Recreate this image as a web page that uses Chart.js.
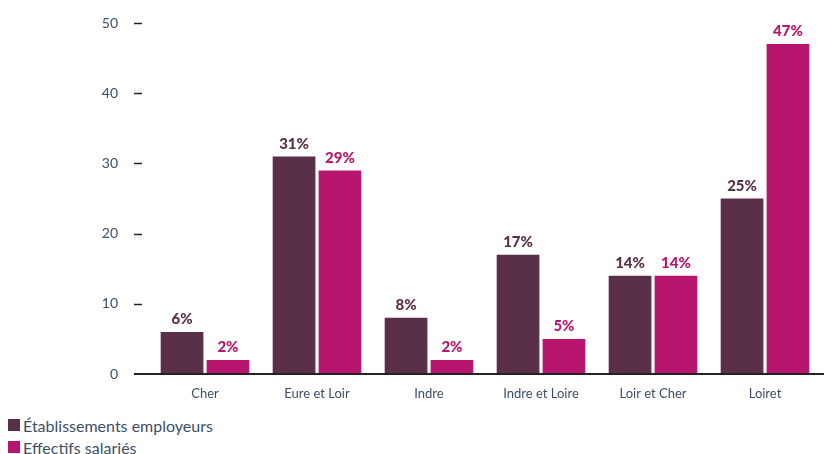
<!DOCTYPE html>
<html>
<head>
<meta charset="utf-8">
<script src="https://cdn.jsdelivr.net/npm/chart.js@4"></script>
<style>
  body { margin: 0; background: #fff; font-family: Lato, sans-serif; }
  #wrap { position: relative; width: 824px; height: 410px; }
  #legend { position: absolute; left: 8px; top: 414px; color: #3d4f66; font-size: 16px; }
  #legend div { display: flex; align-items: center; height: 22px; }
  #legend span.box { display: inline-block; width: 12px; height: 12px; margin-right: 3px; }
</style>
</head>
<body>
<div id="wrap"><canvas id="chart"></canvas></div>
<div id="legend"></div>
<script>
const departements = ['Cher', 'Eure et Loir', 'Indre', 'Indre et Loire', 'Loir et Cher', 'Loiret'];
const etablissements = [6, 31, 8, 17, 14, 25];
const effectifs = [2, 29, 2, 5, 14, 47];
const seriesNames = ['Établissements employeurs', 'Effectifs salariés'];
const darkColor = '#5a2f48';
const pinkColor = '#b8166e';
const textColor = '#3d4f66';

// value labels above each bar + short y ticks + baseline
const decorations = {
  id: 'decorations',
  afterDatasetsDraw(chart) {
    const ctx = chart.ctx;
    const area = chart.chartArea;
    const yScale = chart.scales.y;
    ctx.save();
    ctx.strokeStyle = '#222';
    ctx.lineWidth = 1.5;
    yScale.ticks.forEach(t => {
      if (t.value === 0) return;
      const y = Math.round(yScale.getPixelForValue(t.value)) + 0.5;
      ctx.beginPath();
      ctx.moveTo(area.left - 15, y);
      ctx.lineTo(area.left - 7, y);
      ctx.stroke();
    });
    ctx.lineWidth = 2;
    const y0 = yScale.getPixelForValue(0);
    ctx.beginPath();
    ctx.moveTo(area.left - 15, y0);
    ctx.lineTo(chart.width, y0);
    ctx.stroke();

    ctx.font = '900 15px Lato, sans-serif';
    ctx.textAlign = 'center';
    ctx.textBaseline = 'bottom';
    chart.data.datasets.forEach((ds, i) => {
      const meta = chart.getDatasetMeta(i);
      ctx.fillStyle = ds.backgroundColor;
      meta.data.forEach((bar, j) => {
        ctx.fillText(ds.data[j] + '%', bar.x, bar.y - 5);
      });
    });
    ctx.restore();
  }
};

const chart = new Chart(document.getElementById('chart').getContext('2d'), {
  type: 'bar',
  data: {
    labels: departements,
    datasets: [
      {
        label: seriesNames[0],
        data: etablissements,
        backgroundColor: darkColor,
        categoryPercentage: 0.82,
        barPercentage: 0.93
      },
      {
        label: seriesNames[1],
        data: effectifs,
        backgroundColor: pinkColor,
        categoryPercentage: 0.82,
        barPercentage: 0.93
      }
    ]
  },
  options: {
    responsive: true,
    maintainAspectRatio: false,
    animation: false,
    layout: { padding: { top: 23, right: 3, left: 0, bottom: 0 } },
    plugins: {
      legend: { display: false },
      tooltip: { enabled: false }
    },
    scales: {
      x: {
        grid: { display: false, drawTicks: false },
        border: { display: false },
        ticks: { color: textColor, font: { family: 'Lato', size: 13 }, padding: 12 },
        afterFit: s => { s.height = 36; s.paddingLeft = 0; s.paddingRight = 0; }
      },
      y: {
        min: 0,
        max: 50,
        grid: { display: false, drawTicks: false },
        border: { display: false },
        ticks: { stepSize: 10, color: textColor, font: { family: 'Lato', size: 14 }, padding: 31 },
        afterFit: s => { s.width = 149; s.paddingTop = 0; s.paddingBottom = 0; }
      }
    }
  },
  plugins: [decorations]
});

const legend = document.getElementById('legend');
chart.data.datasets.forEach(ds => {
  const row = document.createElement('div');
  const box = document.createElement('span');
  box.className = 'box';
  box.style.background = ds.backgroundColor;
  row.appendChild(box);
  row.appendChild(document.createTextNode(ds.label));
  legend.appendChild(row);
});
</script>
</body>
</html>
